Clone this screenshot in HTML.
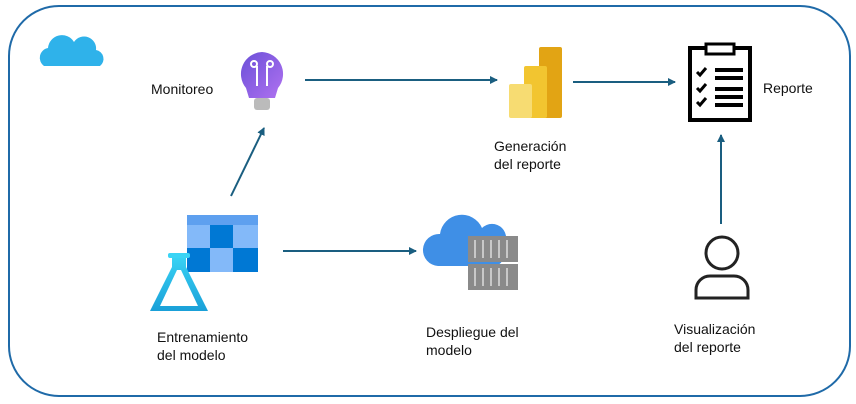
<!DOCTYPE html>
<html><head><meta charset="utf-8"><style>
body{margin:0;width:856px;height:404px;background:#fff;overflow:hidden}
svg{display:block}
text{font-family:"Liberation Sans",sans-serif;font-size:14px;fill:#111}
</style></head><body>
<svg width="856" height="404" viewBox="0 0 856 404">
<defs>
<marker id="a" markerWidth="8" markerHeight="8" refX="7" refY="4" orient="auto" markerUnits="userSpaceOnUse"><path d="M0,0 L8,4 L0,8 Z" fill="#1a5e80"/></marker>
<linearGradient id="bulb" x1="0" y1="0" x2="1" y2="1"><stop offset="0" stop-color="#6a4fd8"/><stop offset="1" stop-color="#b072f0"/></linearGradient>
<linearGradient id="fl" x1="0" y1="0" x2="0" y2="1"><stop offset="0" stop-color="#3ad4f5"/><stop offset="1" stop-color="#1aa0d8"/></linearGradient>
</defs>
<rect x="9" y="6" width="841" height="390" rx="50" fill="none" stroke="#1f6aa8" stroke-width="2"/>
<!-- cloud top-left -->
<path d="M44,66 a10,10 0 0 1 4,-18 a14,14 0 0 1 26,-6 a12,12 0 0 1 22,8 a9,9 0 0 1 4,16 Z" fill="#2fb2ea"/>
<!-- arrows -->
<g stroke="#1a5e80" stroke-width="2" fill="none" marker-end="url(#a)">
<line x1="305" y1="80" x2="497" y2="80"/>
<line x1="573" y1="82" x2="675" y2="82"/>
<line x1="231" y1="196" x2="264" y2="128"/>
<line x1="283" y1="251" x2="416" y2="251"/>
<line x1="721" y1="224" x2="721" y2="135"/>
</g>
<!-- bulb -->
<path d="M262,52 a22,22 0 0 1 16,36 l-3,10 h-26 l-3,-10 a22,22 0 0 1 16,-36 Z" fill="url(#bulb)"/>
<path d="M257,66 v20 M267,66 v20" stroke="#fff" stroke-width="2"/>
<circle cx="254" cy="64" r="3" fill="none" stroke="#fff" stroke-width="2"/><circle cx="270" cy="64" r="3" fill="none" stroke="#fff" stroke-width="2"/>
<rect x="254" y="98" width="16" height="12" rx="3" fill="#bbb"/>
<!-- power bi -->
<rect x="539" y="47" width="23" height="71" rx="2" fill="#e2a414"/>
<rect x="524" y="66" width="23" height="52" rx="2" fill="#f2c530"/>
<rect x="509" y="84" width="23" height="34" rx="2" fill="#f7dc72"/>
<!-- clipboard -->
<rect x="690" y="48" width="60" height="72" fill="#fff" stroke="#000" stroke-width="4"/>
<rect x="706" y="44" width="28" height="10" fill="#fff" stroke="#000" stroke-width="3"/>
<g stroke="#000" stroke-width="4"><line x1="715" y1="70" x2="743" y2="70"/><line x1="715" y1="78" x2="743" y2="78"/><line x1="715" y1="89" x2="743" y2="89"/><line x1="715" y1="97" x2="743" y2="97"/><line x1="715" y1="105" x2="743" y2="105"/></g>
<g stroke="#000" stroke-width="3" fill="none"><path d="M697,72 l3,3 l6,-7"/><path d="M697,88 l3,3 l6,-7"/><path d="M697,102 l3,3 l6,-7"/></g>
<!-- grid -->
<rect x="187" y="215" width="71" height="57" rx="2" fill="#83b9f9"/>
<rect x="187" y="215" width="71" height="10" fill="#5ea0ef"/>
<rect x="210" y="225" width="23" height="23" fill="#0078d4"/>
<rect x="187" y="248" width="23" height="24" fill="#0078d4"/>
<rect x="233" y="248" width="25" height="24" fill="#0078d4"/>
<!-- flask -->
<path d="M172,255 h14 v12 l22,44 h-58 l22,-44 Z" fill="url(#fl)"/>
<path d="M177,270 l-17,36 h38 l-17,-36 Z" fill="#fff"/>
<rect x="168" y="253" width="22" height="5" rx="2" fill="#3ad4f5"/>
<!-- cloud with containers -->
<path d="M438,266 a16,16 0 0 1 2,-32 a22,22 0 0 1 42,-6 a14,14 0 0 1 20,20 a12,12 0 0 1 -6,18 Z" fill="#3f8fe6"/>
<rect x="468" y="236" width="50" height="26" fill="#8a8a8a"/>
<rect x="468" y="264" width="50" height="26" fill="#8a8a8a"/>
<g stroke="#c8c8c8" stroke-width="2"><line x1="475" y1="240" x2="475" y2="258"/><line x1="483" y1="240" x2="483" y2="258"/><line x1="491" y1="240" x2="491" y2="258"/><line x1="499" y1="240" x2="499" y2="258"/><line x1="507" y1="240" x2="507" y2="258"/><line x1="475" y1="268" x2="475" y2="286"/><line x1="483" y1="268" x2="483" y2="286"/><line x1="491" y1="268" x2="491" y2="286"/><line x1="499" y1="268" x2="499" y2="286"/><line x1="507" y1="268" x2="507" y2="286"/></g>
<!-- person -->
<circle cx="722" cy="253" r="16" fill="none" stroke="#222" stroke-width="3"/>
<path d="M696,298 v-8 a14,14 0 0 1 14,-14 h24 a14,14 0 0 1 14,14 v8 Z" fill="none" stroke="#222" stroke-width="3"/>
<!-- labels -->
<text x="151" y="94">Monitoreo</text>
<text x="494" y="151">Generación</text><text x="494" y="169">del reporte</text>
<text x="763" y="93">Reporte</text>
<text x="157" y="342">Entrenamiento</text><text x="157" y="360">del modelo</text>
<text x="426" y="337">Despliegue del</text><text x="426" y="355">modelo</text>
<text x="674" y="334">Visualización</text><text x="674" y="352">del reporte</text>
</svg>
</body></html>
